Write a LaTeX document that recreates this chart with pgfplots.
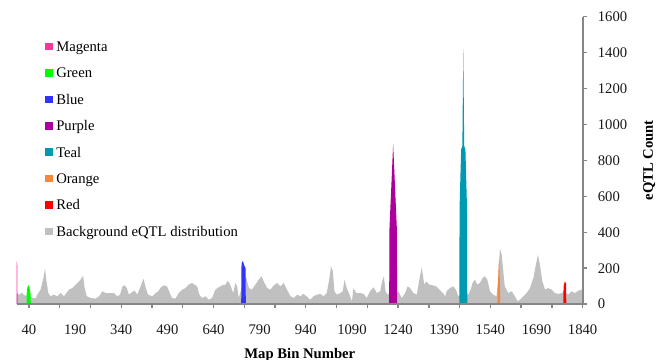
\documentclass[border=0pt]{standalone}
\usepackage{pgfplots}
\pgfplotsset{compat=1.18}
\usepackage{fontspec}
\setmainfont{Liberation Serif}
\definecolor{cMagenta}{RGB}{255,51,153}
\definecolor{cGreen}{RGB}{0,255,0}
\definecolor{cBlue}{RGB}{51,51,255}
\definecolor{cPurple}{RGB}{172,0,156}
\definecolor{cTeal}{RGB}{0,153,178}
\definecolor{cOrange}{RGB}{245,135,60}
\definecolor{cRed}{RGB}{255,0,0}
\definecolor{cBack}{RGB}{192,192,192}
\definecolor{axgray}{RGB}{134,134,134}
\begin{document}
\begin{tikzpicture}
\begin{axis}[
  scale only axis,
  width=424.7pt, height=215.5pt,
  xmin=0, xmax=1841, ymin=0, ymax=1600,
  enlargelimits=false,
  axis on top,
  axis x line=bottom, axis y line=right,
  x axis line style={-, draw=axgray, line width=1.5pt},
  y axis line style={-, draw=axgray, line width=1.5pt},
  tick align=outside,
  major tick length=3pt,
  xtick={40,190,...,1840},
  major x tick style={draw=none},
  extra x ticks={40,140,...,1840},
  extra x tick labels={},
  extra x tick style={major x tick style={draw=axgray, line width=1pt}},
  ytick={0,200,...,1600},
  y tick style={draw=axgray, line width=1pt},
  /pgf/number format/assume math mode=true,
  /pgf/number format/1000 sep={},
  ticklabel style={font=\fontsize{11}{13}\selectfont, text=black!90},
  xticklabel style={anchor=base, inner sep=0pt, yshift=-19.8pt},
  yticklabel style={anchor=base west, inner sep=0pt, xshift=8pt, yshift=-3.7pt},
  reverse legend,
  legend style={draw=none, fill=none, at={(axis description cs:0,1)}, anchor=north west,
    xshift=21.2pt, yshift=-12pt, inner sep=0pt, row sep=0pt,
    font=\fontsize{11}{13}\selectfont,
    nodes={inner sep=0pt, anchor=base west, text height=13.9pt, text depth=5.9pt},
    /tikz/every odd column/.append style={column sep=2.5pt}},
  legend cell align=left,
  legend image code/.code={\fill[#1] (0pt,0.75pt) rectangle (5.8pt,6.55pt);},
]
\addplot[fill=cBack, draw=none] coordinates {
(0,58)(8,52)(16,62)(24,50)(32,45)(39,60)(45,40)(51,33)(62,33)(67,52)(78,80)(87,145)(92,197)(97,126)
(103,61)(110,43)(121,52)(132,43)(143,61)(154,43)(170,80)(181,89)(192,108)(203,126)(208,136)(216,158)
(221,89)(228,43)(241,33)(257,30)(268,43)(279,71)(289,61)(300,61)(316,61)(327,43)(336,52)(344,98)
(351,104)(358,89)(365,52)(376,67)(384,74)(392,52)(403,98)(412,141)(420,89)(427,52)(441,43)(452,61)
(460,70)(467,89)(478,104)(489,98)(498,61)(505,33)(516,30)(527,61)(538,80)(549,89)(559,108)(570,117)
(578,108)(587,98)(594,52)(603,33)(614,43)(624,24)(635,33)(646,80)(657,93)(668,104)(679,108)(687,130)
(695,104)(704,61)(711,117)(717,98)(722,33)(730,80)(740,150)(747,145)(755,89)(765,80)(776,108)(787,136)
(796,154)(803,126)(814,89)(825,80)(836,104)(847,117)(858,98)(868,117)(879,80)(890,43)(901,33)(912,52)
(922,43)(932,56)(943,43)(954,24)(965,43)(976,52)(987,56)(998,43)(1008,61)(1017,145)(1022,210)(1028,182)
(1033,71)(1041,52)(1052,61)(1060,71)(1066,136)(1073,89)(1082,52)(1090,15)(1095,89)(1104,61)(1117,61)
(1128,56)(1138,33)(1149,71)(1160,93)(1171,61)(1182,71)(1188,126)(1194,154)(1199,71)(1206,52)(1212,60)
(1224,60)(1236,60)(1241,71)(1252,33)(1263,61)(1271,98)(1279,89)(1290,61)(1301,52)(1310,145)(1317,204)
(1325,108)(1332,126)(1342,108)(1353,104)(1364,98)(1375,80)(1386,61)(1393,43)(1398,71)(1408,89)(1419,98)
(1428,80)(1436,43)(1450,60)(1468,52)(1476,80)(1482,117)(1490,136)(1497,108)(1506,117)(1515,145)(1522,154)
(1530,136)(1539,71)(1549,52)(1560,43)(1566,150)(1571,308)(1577,275)(1582,182)(1587,98)(1598,61)(1609,71)
(1620,43)(1628,15)(1636,24)(1647,43)(1658,61)(1669,89)(1680,145)(1688,219)(1695,275)(1701,219)(1709,126)
(1718,80)(1728,89)(1739,80)(1750,61)(1761,56)(1772,61)(1782,70)(1793,52)(1804,71)(1815,61)(1826,74)
(1837,80)(1841,78)
} \closedcycle;
\addlegendentry{Background eQTL distribution}
\addplot[fill=cRed, draw=none] coordinates {(1777,0)(1778,95)(1782,126)(1786,115)(1787,0)} \closedcycle;
\addlegendentry{Red}
\addplot[fill=cOrange, draw=none] coordinates {(1563,0)(1564,80)(1568,255)(1569,245)(1571,120)(1572,0)} \closedcycle;
\addlegendentry{Orange}
\addplot[fill=cTeal, draw=none] coordinates {(1439,0)(1440,540)(1445,860)(1449,880)(1452,1420)(1455,880)(1459,860)(1464,540)(1465,0)} \closedcycle;
\addlegendentry{Teal}
\addplot[fill=cPurple, draw=none] coordinates {(1211,0)(1212,420)(1224,890)(1236,420)(1237,0)} \closedcycle;
\addlegendentry{Purple}
\addplot[fill=cBlue, draw=none] coordinates {(730,0)(731,220)(733,238)(736,236)(740,215)(744,200)(745,0)} \closedcycle;
\addlegendentry{Blue}
\addplot[fill=cGreen, draw=none] coordinates {(32,0)(33,75)(36,100)(39,104)(42,90)(45,60)(46,0)} \closedcycle;
\addlegendentry{Green}
\addplot[fill=cMagenta, draw=none] coordinates {(0,0)(0,238)(2,215)(3,0)} \closedcycle;
\addlegendentry{Magenta}
\end{axis}
\node[rotate=90, anchor=base, font=\fontsize{11}{13}\selectfont\bfseries] at ([xshift=52.5pt]current axis.east) {eQTL Count};
\node[anchor=base, font=\fontsize{11}{13}\selectfont\bfseries] at ([yshift=-40.5pt]current axis.south) {Map Bin Number};
\pgfresetboundingbox
\path[use as bounding box] (current axis.south west) ++(-12.5pt,-42pt) rectangle ++(492pt,270pt);
\end{tikzpicture}
\end{document}
